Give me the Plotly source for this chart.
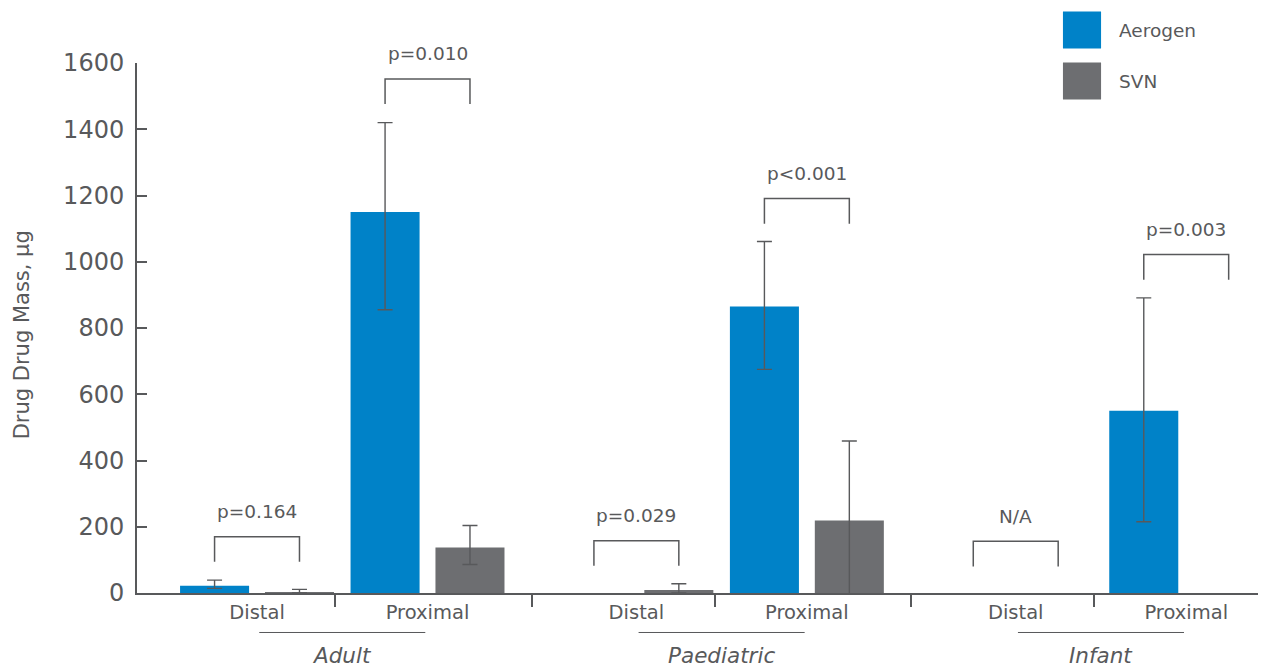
import plotly.graph_objects as go

# ---------------- data ----------------
groups = ["Adult", "Paediatric", "Infant"]
sites = ["Distal", "Proximal"]
series_names = ["Aerogen", "SVN"]

aerogen = [22, 1150, None, 865, None, 550]
aerogen_err_up = [17, 270, None, 196, None, 341]
aerogen_err_down = [8, 295, None, 190, None, 335]

svn = [2, 137, 9, 219, None, None]
svn_err_up = [9, 67, 19, 240, None, None]
svn_err_down = [2, 51, 9, 240, None, None]

p_labels = ["p=0.164", "p=0.010", "p=0.029", "p<0.001", "N/A", "p=0.003"]
bracket_levels = [170, 1552, 158, 1191, 156, 1022]

y_ticks = [0, 200, 400, 600, 800, 1000, 1200, 1400, 1600]
y_title = "Drug Drug Mass, µg"

# ---------------- style ----------------
BLUE = "#0082C8"
GREY = "#6D6E71"
AXIS = "#58595B"
TEXT = "#58595B"
FONT = "DejaVu Sans"

GROUP_STEP = 2.225
BARGAP = 0.004
BARGROUPGAP = 0.187
HALF = (1 - BARGAP) / 4  # offset of each bar centre from category position

pos = [g * GROUP_STEP + s for g in range(len(groups)) for s in range(len(sites))]
tick_text = [s for g in groups for s in sites]
group_centres = [g * GROUP_STEP + 0.5 for g in range(len(groups))]
dividers = ([c - 0.04 for c in group_centres] +
            [g * GROUP_STEP + 1 + (GROUP_STEP - 1) / 2 for g in range(len(groups) - 1)])

fig = go.Figure()
fig.add_trace(go.Bar(
    x=pos, y=aerogen, name=series_names[0], marker_color=BLUE, marker_line_width=0,
    error_y=dict(type="data", symmetric=False, array=aerogen_err_up,
                 arrayminus=aerogen_err_down, color=AXIS, thickness=1.4, width=7.5),
))
fig.add_trace(go.Bar(
    x=pos, y=svn, name=series_names[1], marker_color=GREY, marker_line_width=0,
    error_y=dict(type="data", symmetric=False, array=svn_err_up,
                 arrayminus=svn_err_down, color=AXIS, thickness=1.4, width=7.5),
))

shapes = []
annotations = []

# significance brackets
LEG = 76
for x, lvl, lab in zip(pos, bracket_levels, p_labels):
    x1, x2 = x - HALF, x + HALF
    shapes.append(dict(type="path", xref="x", yref="y",
                       path=f"M {x1},{lvl - LEG} L {x1},{lvl} L {x2},{lvl} L {x2},{lvl - LEG}",
                       line=dict(color=AXIS, width=1.5)))
    annotations.append(dict(x=x, y=lvl, xref="x", yref="y", text=lab, showarrow=False,
                            yshift=25, yanchor="middle",
                            font=dict(family=FONT, size=18.5, color=TEXT)))

# group labels and underlines
for c, g in zip(group_centres, groups):
    shapes.append(dict(type="line", xref="x", yref="paper", x0=c - 0.487, x1=c + 0.487,
                       y0=-0.0745, y1=-0.0745, line=dict(color=AXIS, width=1)))
    annotations.append(dict(x=c, y=-0.118, xref="x", yref="paper", text=g, showarrow=False,
                            yanchor="middle",
                            font=dict(family=FONT, size=21.5, color=TEXT, style="italic")))

# legend (manual, large swatches)
for i, (nm, col) in enumerate(zip(series_names, [BLUE, GREY])):
    top = 1.097 - i * 0.0962
    shapes.append(dict(type="rect", xref="paper", yref="paper", x0=0.826, x1=0.86,
                       y0=top - 0.0698, y1=top, fillcolor=col, line=dict(width=0)))
    annotations.append(dict(x=0.8742, y=top - 0.0349, xref="paper", yref="paper", text=nm,
                            showarrow=False, xanchor="left", yanchor="middle",
                            font=dict(family=FONT, size=18.5, color=TEXT)))

# y-axis title
annotations.append(dict(x=-0.1026, y=0.488, xref="paper", yref="paper", text=y_title,
                        textangle=-90, showarrow=False, xanchor="center", yanchor="middle",
                        font=dict(family=FONT, size=21, color=TEXT)))

fig.update_layout(
    width=1262, height=669,
    margin=dict(l=137, r=4, t=63, b=76),
    paper_bgcolor="white", plot_bgcolor="white",
    barmode="group", bargap=BARGAP, bargroupgap=BARGROUPGAP,
    showlegend=False,
    shapes=shapes, annotations=annotations,
    font=dict(family=FONT, color=TEXT),
    xaxis=dict(
        range=[-0.704, 5.871], showgrid=False, zeroline=False,
        showline=True, linecolor=AXIS, linewidth=2,
        tickmode="array", tickvals=pos, ticktext=tick_text, ticks="",
        tickfont=dict(family=FONT, size=19.5, color=TEXT),
        ticklabelstandoff=1,
        minor=dict(tickmode="array", tickvals=dividers, ticks="outside",
                   ticklen=12, tickwidth=2, tickcolor=AXIS, showgrid=False),
    ),
    yaxis=dict(
        range=[0, 1600], showgrid=False, zeroline=False,
        showline=True, linecolor=AXIS, linewidth=2,
        tickmode="array", tickvals=y_ticks, ticks="inside", ticklen=10,
        tickwidth=2, tickcolor=AXIS,
        tickfont=dict(family=FONT, size=24, color=TEXT),
        ticklabelstandoff=6,
    ),
)

fig.write_html("out.html", config={"displayModeBar": False},
               post_script="document.body.style.margin='0';document.body.style.overflow='hidden';")
